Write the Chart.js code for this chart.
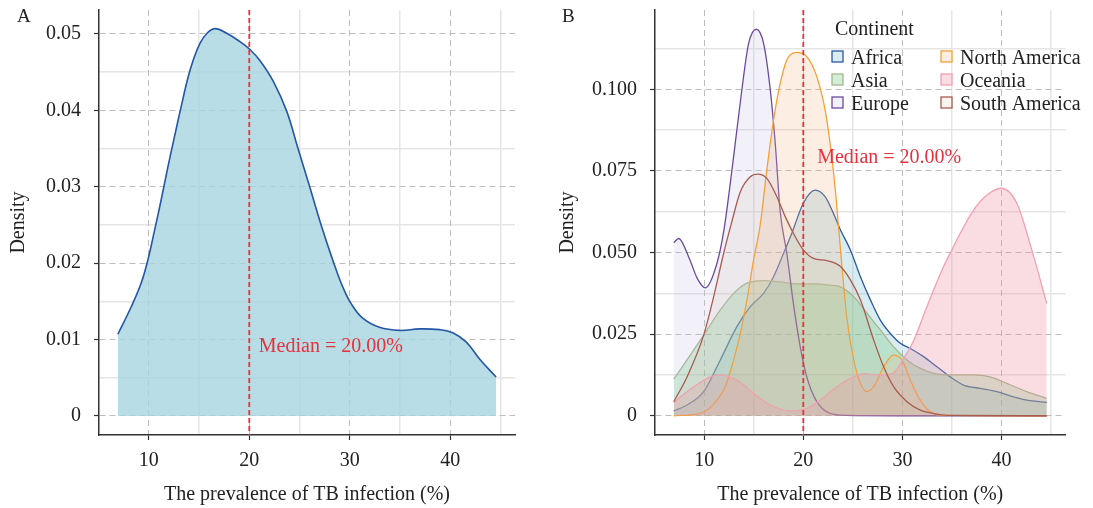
<!DOCTYPE html>
<html>
<head>
<meta charset="utf-8">
<script src="https://cdn.jsdelivr.net/npm/chart.js@4.4.1/dist/chart.umd.min.js"></script>
<style>
  html, body { margin: 0; padding: 0; background: #fff; }
  #wrap { position: relative; width: 1093px; height: 508px; }
  canvas { position: absolute; top: 0; }
</style>
</head>
<body>
<div id="wrap">
  <canvas id="chartA" width="546" height="508" style="left:0"></canvas>
  <canvas id="chartB" width="547" height="508" style="left:546px"></canvas>
</div>
<script>
// shared axis values
const MEDIAN = 20;
const xMajorTicks = [10, 20, 30, 40];
const xMinorTicks = [15, 25, 35, 45];
const xTickLabels = ['10', '20', '30', '40'];
const X_MIN = 5.04;
const X_MAX = 46.45;

// panel A: all countries
const aYTicks = [0, 0.01, 0.02, 0.03, 0.04, 0.05];
const aYTickLabels = ['0', '0.01', '0.02', '0.03', '0.04', '0.05'];
const aYMinor = [0.005, 0.015, 0.025, 0.035, 0.045];
const allX = [6.92, 8.25, 9.24, 9.9, 10.57, 11.23, 11.9, 12.56, 13.22, 13.88, 14.4, 15.1, 15.8, 16.59, 17.75, 19.07,
  20.04, 21.07, 22.39, 23.72, 24.83, 25.99, 27.15, 28.31, 29.3, 30.14, 31.29, 32.96, 34.95, 36.94, 38.93, 40.25, 41.58,
  42.9, 44.57];
const allY = [0.0107, 0.0143, 0.0174, 0.0204, 0.0243, 0.0283, 0.0326, 0.0366, 0.0405, 0.0442, 0.0465, 0.0488, 0.0501,
  0.0507, 0.0501, 0.049, 0.048, 0.0465, 0.0438, 0.0399, 0.0351, 0.0301, 0.025, 0.0204, 0.0169, 0.0147, 0.0128, 0.0116,
  0.0112, 0.0114, 0.0113, 0.0109, 0.0097, 0.0075, 0.0051];

// panel B: by continent
const bYTicks = [0, 0.025, 0.05, 0.075, 0.1];
const bYTickLabels = ['0', '0.025', '0.050', '0.075', '0.100'];
const bYMinor = [0.0125, 0.0375, 0.0625, 0.0875, 0.1125];
const continents = ['Africa', 'Asia', 'Europe', 'North America', 'Oceania', 'South America'];

const africaX = [6.93, 8.27, 9.95, 11.63, 13.3, 14.65, 15.99, 17.0, 18.0, 18.84, 20.0, 21.2, 22.2, 23.04, 23.75,
  24.75, 25.76, 26.77, 27.77, 28.78, 29.79, 30.8, 32.13, 33.48, 34.82, 36.16, 37.84, 39.53, 41.2, 42.88, 44.56];
const africaY = [0.0015, 0.0033, 0.0074, 0.0171, 0.0273, 0.0334, 0.0375, 0.0426, 0.0497, 0.0559, 0.0651, 0.0691, 0.0671,
  0.062, 0.0569, 0.0508, 0.0426, 0.0355, 0.0293, 0.0252, 0.0222, 0.0206, 0.0181, 0.015, 0.0119, 0.0094, 0.0084, 0.0074,
  0.0058, 0.0046, 0.0041];

const asiaX = [6.93, 8.27, 9.95, 11.63, 12.97, 14.31, 15.99, 17.67, 19.35, 21.03, 22.7, 23.75, 25.09, 26.43, 27.77,
  29.11, 30.46, 31.8, 33.14, 34.8, 37.17, 38.85, 40.53, 42.53, 44.56];
const asiaY = [0.0112, 0.0171, 0.0247, 0.0324, 0.0375, 0.0406, 0.0414, 0.041, 0.0404, 0.0404, 0.04, 0.0395, 0.0365,
  0.0314, 0.0263, 0.0211, 0.0171, 0.0145, 0.013, 0.0125, 0.0125, 0.0119, 0.0099, 0.0074, 0.0053];

const europeX = [6.93, 7.43, 8.5, 9.3, 10.12, 11.29, 12.0, 12.97, 13.8, 14.48, 15.26, 16.0, 16.67, 17.17, 17.67, 18.34,
  19.0, 19.69, 20.35, 21.36, 22.7, 24.3, 30.0, 44.56];
const europeY = [0.053, 0.0543, 0.0482, 0.0421, 0.0392, 0.0467, 0.057, 0.0794, 0.0998, 0.114, 0.1184, 0.114, 0.0998,
  0.0835, 0.0625, 0.0497, 0.0344, 0.0211, 0.0119, 0.0043, 0.0007, 0.0001, 0, 0];

const northAmX = [6.93, 9.27, 10.28, 11.29, 12.13, 12.97, 13.65, 14.31, 14.98, 15.65, 16.32, 17.0, 17.67, 18.34, 19.28,
  20.35, 21.36, 22.2, 22.7, 23.2, 23.54, 24.08, 24.42, 25.09, 25.76, 26.43, 27.1, 28.1, 29.11, 29.96, 30.8, 31.8, 32.8,
  33.8, 44.56];
const northAmY = [0, 0.0005, 0.0017, 0.0048, 0.0089, 0.0171, 0.0252, 0.0354, 0.0477, 0.0584, 0.0753, 0.0906, 0.1018,
  0.109, 0.1113, 0.11, 0.1039, 0.0937, 0.0835, 0.0702, 0.0584, 0.0395, 0.0293, 0.0171, 0.0099, 0.0074, 0.0089, 0.015,
  0.0186, 0.0171, 0.0109, 0.0048, 0.0012, 0.0002, 0];

const oceaniaX = [6.93, 8.94, 11.46, 13.3, 14.98, 16.67, 18.68, 20.35, 21.7, 23.37, 25.06, 26.2, 27.8, 29.2, 30.12,
  31.13, 32.48, 34.15, 34.99, 35.83, 37.17, 38.52, 39.96, 41.54, 43.05, 44.56];
const oceaniaY = [0.004, 0.0089, 0.0125, 0.0109, 0.0069, 0.0033, 0.0015, 0.0023, 0.0048, 0.0089, 0.0119, 0.0129,
  0.0124, 0.0134, 0.0175, 0.023, 0.0335, 0.0457, 0.0508, 0.0559, 0.063, 0.0676, 0.0697, 0.0651, 0.0508, 0.0344];

const southAmX = [6.93, 8.27, 9.95, 10.96, 11.96, 12.7, 13.65, 14.65, 15.42, 16.32, 17.33, 18.18, 19.0, 20.0, 21.03,
  22.37, 23.75, 24.75, 25.76, 27.1, 28.1, 29.11, 30.46, 31.8, 33.1, 34.5, 44.56];
const southAmY = [0.0043, 0.0119, 0.0247, 0.0365, 0.0497, 0.0584, 0.0686, 0.0732, 0.074, 0.0727, 0.0671, 0.061,
  0.0559, 0.0508, 0.0482, 0.0475, 0.0457, 0.0416, 0.0355, 0.0232, 0.015, 0.0089, 0.0043, 0.0017, 0.0007, 0.0001, 0];

const lineColors = ['#2c5aa0', '#a3b68c', '#6a4a9e', '#f5a036', '#f2a0b3', '#a95b4f'];
const fillColors = [
  'rgba(118,185,205,0.28)',
  'rgba(110,200,120,0.3)',
  'rgba(190,185,230,0.2)',
  'rgba(248,178,132,0.22)',
  'rgba(238,142,162,0.3)',
  'rgba(200,180,150,0.15)',
];

const SERIF = '"Liberation Serif", "Times New Roman", serif';
Chart.defaults.font.family = SERIF;
Chart.defaults.font.size = 20;
Chart.defaults.color = '#222';

const toPoints = (xs, ys) => xs.map((x, i) => ({ x, y: ys[i] }));
const fixTicks = (values) => (axis) => {
  axis.ticks = values.map((v) => ({ value: v }));
};
// keep the plot area where it is: no extra room for edge labels
const noEdgePad = (s) => {
  s.paddingTop = 0;
  s.paddingBottom = 0;
  s.paddingLeft = 0;
  s.paddingRight = 0;
};

// median line, label and panel letter
const overlay = {
  id: 'overlay',
  afterDatasetsDraw(chart, args, o) {
    const { ctx, chartArea, scales } = chart;
    const mx = scales.x.getPixelForValue(MEDIAN);
    ctx.save();
    ctx.strokeStyle = '#e5323b';
    ctx.lineWidth = 1.8;
    ctx.setLineDash([5, 3]);
    ctx.beginPath();
    ctx.moveTo(mx, chartArea.top);
    ctx.lineTo(mx, chartArea.bottom);
    ctx.stroke();
    ctx.setLineDash([]);
    ctx.fillStyle = '#e5323b';
    ctx.font = '20px ' + SERIF;
    ctx.textBaseline = 'middle';
    ctx.fillText('Median = ' + MEDIAN.toFixed(2) + '%',
      scales.x.getPixelForValue(o.textX), scales.y.getPixelForValue(o.textY));
    ctx.fillStyle = '#222';
    ctx.font = '19px ' + SERIF;
    ctx.textBaseline = 'alphabetic';
    ctx.fillText(o.letter, o.letterX, 22);
    ctx.restore();
  },
};

// two-column legend of panel B
const continentLegend = {
  id: 'continentLegend',
  afterDatasetsDraw(chart, args, o) {
    if (!o.show) return;
    const { ctx } = chart;
    ctx.save();
    ctx.fillStyle = '#222';
    ctx.font = '20px ' + SERIF;
    ctx.textBaseline = 'alphabetic';
    ctx.fillText('Continent', o.left + 3, o.top);
    continents.forEach((name, i) => {
      const col = Math.floor(i / 3);
      const row = i % 3;
      const bx = o.left + col * o.colWidth;
      const by = o.top + 16 + row * 23;
      ctx.fillStyle = '#fff';
      ctx.fillRect(bx, by, 11, 11);
      ctx.fillStyle = fillColors[i];
      ctx.fillRect(bx, by, 11, 11);
      ctx.strokeStyle = lineColors[i];
      ctx.lineWidth = 1.3;
      ctx.strokeRect(bx, by, 11, 11);
      ctx.fillStyle = '#222';
      ctx.fillText(name, bx + 19, by + 12.5);
    });
    ctx.restore();
  },
};

function buildScales(p) {
  return {
    xMinor: {
      type: 'linear', position: 'bottom', min: X_MIN, max: X_MAX,
      afterBuildTicks: fixTicks(xMinorTicks),
      afterFit: (s) => { s.height = 0; noEdgePad(s); },
      ticks: { display: false },
      grid: { color: '#e5e5e5', lineWidth: 1.5, drawTicks: false },
      border: { display: false },
    },
    yMinor: {
      type: 'linear', position: 'left', min: p.yMin, max: p.yMax,
      afterBuildTicks: fixTicks(p.yMinor),
      afterFit: (s) => { s.width = 0; noEdgePad(s); },
      ticks: { display: false },
      grid: { color: '#e5e5e5', lineWidth: 1.5, drawTicks: false },
      border: { display: false },
    },
    x: {
      type: 'linear', position: 'bottom', min: X_MIN, max: X_MAX,
      afterBuildTicks: fixTicks(xMajorTicks),
      afterFit: (s) => { s.height = p.xHeight; noEdgePad(s); },
      ticks: { padding: 9, color: '#222', callback: (v, i) => xTickLabels[i] },
      grid: { color: '#bdbdbd', lineWidth: 1, tickColor: '#333', tickLength: 5, tickWidth: 1.2 },
      border: { display: true, color: '#333', width: 1.5, dash: [6, 4] },
      title: { display: true, text: 'The prevalence of TB infection (%)', color: '#222', padding: { top: 0, bottom: 1 } },
    },
    y: {
      type: 'linear', position: 'left', min: p.yMin, max: p.yMax,
      afterBuildTicks: fixTicks(p.yTicks),
      afterFit: (s) => { s.width = p.yWidth; noEdgePad(s); },
      ticks: { padding: 13, color: '#222', callback: (v, i) => p.yLabels[i] },
      grid: { color: '#bdbdbd', lineWidth: 1, tickColor: '#333', tickLength: 5, tickWidth: 1.2 },
      border: { display: true, color: '#333', width: 1.5, dash: [6, 4] },
      title: { display: true, text: 'Density', color: '#222', padding: { top: p.titlePad, bottom: 0 } },
    },
  };
}

function makeChart(id, datasets, p, pluginOpts) {
  return new Chart(document.getElementById(id), {
    type: 'line',
    data: { datasets },
    options: {
      responsive: false,
      animation: false,
      devicePixelRatio: 1,
      layout: { padding: { top: 10, right: p.padRight, left: 0, bottom: 0 } },
      elements: { point: { radius: 0 } },
      plugins: {
        legend: { display: false },
        tooltip: { enabled: false },
        overlay: pluginOpts.overlay,
        continentLegend: pluginOpts.legend,
      },
      scales: buildScales(p),
    },
    plugins: [overlay, continentLegend],
  });
}

makeChart('chartA', [{
  data: toPoints(allX, allY),
  borderColor: '#2456a6',
  backgroundColor: 'rgba(168,212,224,0.8)',
  borderWidth: 1.6,
  fill: 'origin',
  tension: 0.4,
}], {
  yMin: -0.00249, yMax: 0.05314, yTicks: aYTicks, yLabels: aYTickLabels, yMinor: aYMinor,
  yWidth: 99, xHeight: 73, padRight: 31, titlePad: 7,
}, {
  overlay: { letter: 'A', letterX: 17, textX: 20.95, textY: 0.0091 },
  legend: { show: false },
});

const seriesX = [africaX, asiaX, europeX, northAmX, oceaniaX, southAmX];
const seriesY = [africaY, asiaY, europeY, northAmY, oceaniaY, southAmY];
makeChart('chartB', continents.map((name, i) => ({
  label: name,
  data: toPoints(seriesX[i], seriesY[i]),
  borderColor: lineColors[i],
  backgroundColor: fillColors[i],
  borderWidth: 1.3,
  fill: 'origin',
  cubicInterpolationMode: 'monotone',
  order: continents.length - i,
})), {
  yMin: -0.0059, yMax: 0.1243, yTicks: bYTicks, yLabels: bYTickLabels, yMinor: bYMinor,
  yWidth: 109, xHeight: 73, padRight: 27.5, titlePad: 10,
}, {
  overlay: { letter: 'B', letterX: 16, textX: 21.4, textY: 0.079 },
  legend: { show: true, left: 286, top: 35, colWidth: 109 },
});
</script>
</body>
</html>
